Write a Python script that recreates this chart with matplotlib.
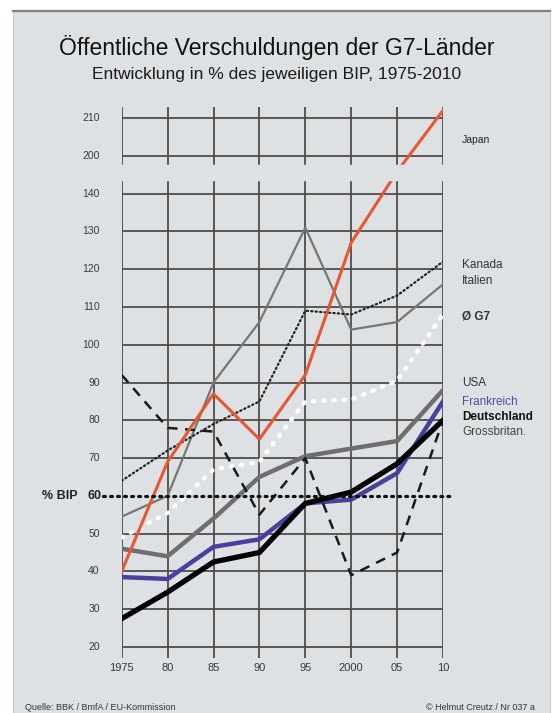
import matplotlib
matplotlib.use("Agg")
import matplotlib.pyplot as plt
from matplotlib.patches import Rectangle
from matplotlib.lines import Line2D

plt.rcParams['font.family'] = ['Liberation Sans', 'DejaVu Sans']

years = [1975, 1980, 1985, 1990, 1995, 2000, 2005, 2010]
x_labels = ['1975', '80', '85', '90', '95', '2000', '05', '10']
y_ticks = [20, 30, 40, 50, 60, 70, 80, 90, 100, 110, 120, 130, 140, 200, 210]

japan = [40, 69, 87, 75, 92, 127, 175, 212]
kanada = [64, 72, 79, 85, 109, 108, 113, 122]
italien = [54.5, 60, 90, 106, 131, 104, 106, 116]
g7 = [49, 55.5, 67, 69, 85, 85.5, 90.5, 108]
usa = [46, 44, 54, 65, 70.5, 72.5, 74.5, 88]
frankreich = [38.5, 38, 46.5, 48.5, 58, 59, 66, 85]
deutschland = [27.5, 34.5, 42.5, 45, 58, 61, 68.5, 80]
grossbritan = [92, 78, 77, 55, 70, 39, 45, 80]

PANEL = '#dde1e4'
GRID = '#4d4d4d'


def tr(v):
    # broken axis: 140..200 squeezed into the gap
    if v <= 140:
        return v
    if v >= 200:
        return v - 50
    return 140 + (v - 140) / 6.0


def trs(vals):
    return [tr(v) for v in vals]


fig = plt.figure(figsize=(5.53, 7.13), dpi=100)
fig.patch.set_facecolor('white')
fig.patches.append(Rectangle((13 / 553, 0), 537 / 553, 1 - 10 / 713,
                             transform=fig.transFigure, facecolor=PANEL,
                             edgecolor='#c8cccf', lw=0.8, zorder=-2))
fig.lines.append(Line2D([13 / 553, 550 / 553], [1 - 10.5 / 713, 1 - 10.5 / 713],
                        transform=fig.transFigure, color='#808080', lw=1.6, zorder=-1))

ax = fig.add_axes([121.7 / 553, 1 - 658.3 / 713, (443 - 121.7) / 553, (658.3 - 106.7) / 713])
ax.set_zorder(2)
ax.set_xlim(1975, 2010)
ax.set_ylim(17, 163)
ax.axis('off')

# grid
for v in y_ticks:
    if v == 60:
        continue
    ax.hlines(tr(v), 1975, 2010, color=GRID, lw=1.3, zorder=1)
ax.vlines(years, 17, 163, color=GRID, lw=1.3, zorder=1)

# 60 % line
ax.plot([1972.95, 2011.1], [60, 60], color='#111111', lw=2.3, ls=(0, (0.6, 1.6)),
        dash_capstyle='round', zorder=6, clip_on=False)

# series
ax.plot(years, trs(japan), color='#e8572f', lw=2.2, zorder=5)
ax.plot(years, kanada, color='#222222', lw=1.6, ls=(0, (0.6, 1.4)),
        dash_capstyle='round', zorder=4)
ax.plot(years, italien, color='#767676', lw=1.6, zorder=3)
ax.plot(years, g7, color='white', lw=3.2, ls=(0, (0.3, 2.0)),
        dash_capstyle='round', zorder=4)
ax.plot(years, usa, color='#6e6e6e', lw=3.2, zorder=3)
ax.plot(years, frankreich, color='#4b3f9e', lw=3.2, zorder=4)
ax.plot(years, deutschland, color='black', lw=3.8, zorder=5)
ax.plot(years, grossbritan, color='#1a1a1a', lw=1.8, ls=(0, (4, 3)), zorder=4)

# axis break
ax.axhspan(143.5, 147.5, xmin=-0.02, xmax=1.02, color=PANEL, zorder=7, clip_on=False)

# tick labels
for v in y_ticks:
    if v == 60:
        continue
    ax.text(1972.6, tr(v), str(v), ha='right', va='center', fontsize=7.5,
            color='#3a3a3a', zorder=8)
for x, lab in zip(years, x_labels):
    ax.text(x, 14.4, lab, ha='center', va='center', fontsize=8, color='#3a3a3a')

ax.text(1972.8, 60, '60', ha='right', va='center', fontsize=9, fontweight='bold',
        color='#222222')
ax.text(1970.2, 60, '% BIP', ha='right', va='center', fontsize=9, fontweight='bold',
        color='#222222')

# series labels on the right
lx = 2012.1
ax.text(lx, 154.2, 'Japan', fontsize=7.5, va='center', color='#222222')
ax.text(lx, 121.1, 'Kanada', fontsize=8.5, va='center', color='#333333')
ax.text(lx, 116.8, 'Italien', fontsize=8.5, va='center', color='#333333')
ax.text(lx, 107.5, 'Ø G7', fontsize=8.5, va='center', color='#333333', fontweight='bold')
ax.text(lx, 89.9, 'USA', fontsize=8.5, va='center', color='#333333')
ax.text(lx, 84.8, 'Frankreich', fontsize=8.5, va='center', color='#5548a8')
ax.text(lx, 80.8, 'Deutschland', fontsize=8.5, va='center', color='#111111',
        fontweight='bold')
ax.text(lx, 76.8, 'Grossbritan.', fontsize=8.5, va='center', color='#444444')

fig.text(0.5, 1 - 47 / 713, 'Öffentliche Verschuldungen der G7-Länder',
         ha='center', va='center', fontsize=16.5, color='#111111')
fig.text(0.5, 1 - 75 / 713, 'Entwicklung in % des jeweiligen BIP, 1975-2010',
         ha='center', va='center', fontsize=12.5, color='#1a1a1a')

fig.text(25 / 553, 1 - 708 / 713, 'Quelle: BBK / BmfA / EU-Kommission',
         ha='left', va='center', fontsize=6.5, color='#333333')
fig.text(535 / 553, 1 - 708 / 713, '© Helmut Creutz / Nr 037 a',
         ha='right', va='center', fontsize=6.5, color='#333333')

fig.savefig('out.png', dpi=100, facecolor=fig.get_facecolor())
